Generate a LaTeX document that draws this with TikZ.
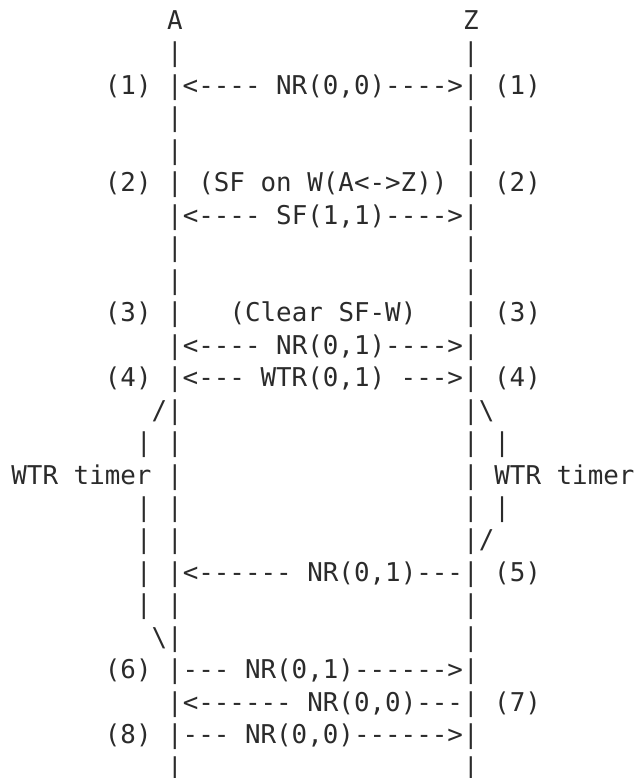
\documentclass[tikz,border=0pt]{standalone}
\usepackage{fontspec}
\setmonofont{DejaVu Sans Mono}
\usepackage{tikz}
\definecolor{inkgray}{HTML}{2B2B2B}
\tikzset{ascii/.style={anchor=base west, inner sep=0pt, outer sep=0pt, text=inkgray,
    font=\ttfamily\fontsize{19.4pt}{24pt}\selectfont}}
\newcommand{\asciirow}[4]{
    \begin{scope}[shift={(11.4,-29.3)}]
        \def\colW{15.58}
        \def\rowH{32.48}

        % one piece of a line of the chart, put on the character grid
        \node[ascii] (#4) at ({#2*\colW},{-#1*\rowH}) {#3};
    \end{scope}
}

\begin{document}
\begin{tikzpicture}[x=0.75pt,y=0.75pt]
\frenchspacing
\useasboundingbox (0,0) rectangle (634,-778);

%  \draw[step=15.58, gray!30, ultra thin] (0,0) grid (634,-778);

    \asciirow{0}{10}{A}{nodeA}
    \asciirow{0}{29}{Z}{nodeZ}
    \asciirow{1}{10}{|}{a1}
    \asciirow{1}{29}{|}{z1}
    \asciirow{2}{6}{(1) |<---- NR(0,0)---->| (1)}{step1}
    \asciirow{3}{10}{|}{a3}
    \asciirow{3}{29}{|}{z3}
    \asciirow{4}{10}{|}{a4}
    \asciirow{4}{29}{|}{z4}
    \asciirow{5}{6}{(2) | (SF on W(A<->Z)) | (2)}{step2}
    \asciirow{6}{10}{|<---- SF(1,1)---->|}{msgSF}
    \asciirow{7}{10}{|}{a7}
    \asciirow{7}{29}{|}{z7}
    \asciirow{8}{10}{|}{a8}
    \asciirow{8}{29}{|}{z8}
    \asciirow{9}{6}{(3) |}{step3a}
    \asciirow{9}{14}{(Clear SF-W)}{clearSF}
    \asciirow{9}{29}{| (3)}{step3z}
    \asciirow{10}{10}{|<---- NR(0,1)---->|}{msgNR}
    \asciirow{11}{6}{(4) |<--- WTR(0,1) --->| (4)}{step4}

    % the two WTR timer brackets
    \asciirow{12}{9}{/|}{a12}
    \asciirow{12}{29}{|\textbackslash}{z12}
    \asciirow{13}{8}{| |}{a13}
    \asciirow{13}{29}{| |}{z13}
    \asciirow{14}{0}{WTR timer |}{timerA}
    \asciirow{14}{29}{| WTR timer}{timerZ}
    \asciirow{15}{8}{| |}{a15}
    \asciirow{15}{29}{| |}{z15}
    \asciirow{16}{8}{| |}{a16}
    \asciirow{16}{29}{|/}{z16}
    \asciirow{17}{8}{| |<------ NR(0,1)---| (5)}{step5}
    \asciirow{18}{8}{| |}{a18}
    \asciirow{18}{29}{|}{z18}
    \asciirow{19}{9}{\textbackslash|}{a19}
    \asciirow{19}{29}{|}{z19}

    \asciirow{20}{6}{(6) |--- NR(0,1)------>|}{step6}
    \asciirow{21}{10}{|<------ NR(0,0)---| (7)}{step7}
    \asciirow{22}{6}{(8) |--- NR(0,0)------>|}{step8}
    \asciirow{23}{10}{|}{a23}
    \asciirow{23}{29}{|}{z23}
\end{tikzpicture}
\end{document}
